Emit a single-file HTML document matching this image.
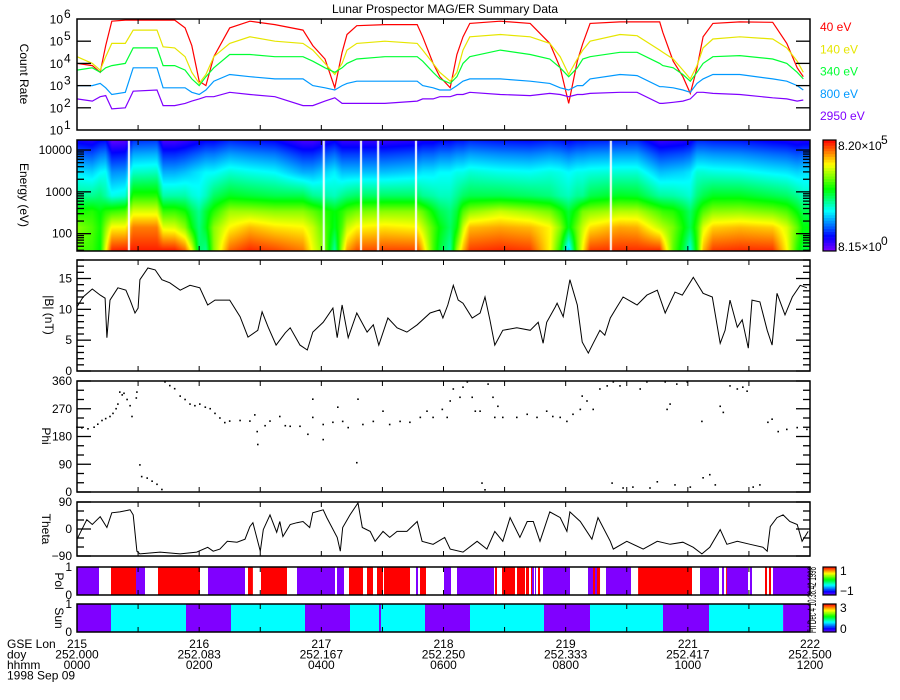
<!DOCTYPE html>
<html><head><meta charset="utf-8"><title>Lunar Prospector MAG/ER Summary Data</title>
<style>
html,body{margin:0;padding:0;background:#fff;}
#wrap{position:relative;width:900px;height:700px;overflow:hidden;font-family:"Liberation Sans",sans-serif;}
#spec{position:absolute;left:77px;top:140px;}
#chart{position:absolute;left:0;top:0;}
text{font-family:"Liberation Sans",sans-serif;font-size:12px;}
</style></head>
<body>
<div id="wrap">
<canvas id="spec" width="733" height="111"></canvas>
<svg id="chart" width="900" height="700" xmlns="http://www.w3.org/2000/svg">
<text x="445" y="13" text-anchor="middle" font-size="13">Lunar Prospector MAG/ER Summary Data</text>
</svg>
</div>
<script>
// ---- data ----
const cTimes = [0,0.25,0.38,0.47,0.57,0.79,0.92,1.31,1.41,1.60,1.77,1.88,2.00,2.11,2.24,2.50,2.83,3.24,3.70,3.86,4.06,4.22,4.34,4.42,4.58,5.04,5.57,5.66,5.83,5.94,6.11,6.22,6.32,6.43,6.93,7.42,7.74,7.91,8.05,8.19,8.28,8.40,8.89,9.17,9.54,9.59,9.76,9.92,10.04,10.15,10.25,10.41,10.85,11.39,11.62,11.79,11.89];
const rate40 = [4.0,3.9,3.6,4.8,5.9, 5.95,5.95,5.95,5.95,5.95, 5.6,4.8,3.2,3.0,4.3, 5.6,5.9,5.75,5.5,4.8, 4.2,2.9,4.5,5.3,5.7, 5.75,5.75,5.2,4.0,3.4, 2.9,4.4,5.2,5.8,5.9, 5.8,4.9,3.8,2.2,4.1, 4.9,5.8,5.87,5.87,5.87, 5.4,4.1,3.4,2.65,3.8, 5.2,5.8,5.87,5.85,4.9, 3.8,3.4];
const rate140 = [4.3,4.0,3.7,4.3,4.9, 4.9,5.5,5.5,4.75,4.7, 4.3,3.6,3.1,3.5,4.3, 4.9,5.2,5.0,4.9,4.6, 4.0,3.5,4.0,4.6,4.9, 5.0,4.9,4.6,4.0,3.6, 3.2,3.6,4.6,5.2,5.3, 5.2,4.9,4.3,3.5,4.2, 4.6,5.0,5.3,5.25,4.6, 4.5,4.2,3.7,3.3,3.9, 4.7,5.1,5.2,5.1,4.7, 4.1,3.6];
const rate340 = [3.7,3.8,3.6,3.8,3.9, 4.0,4.7,4.7,3.9,3.9, 3.7,3.3,3.0,3.4,3.8, 4.4,4.4,4.3,4.3,4.1, 3.8,3.6,3.8,4.0,4.2, 4.3,4.3,4.1,3.6,3.3, 3.1,3.4,4.0,4.3,4.6, 4.4,4.2,3.8,3.4,3.8, 4.2,4.3,4.5,4.5,4.0, 3.9,3.8,3.5,3.2,3.6, 4.0,4.3,4.35,4.2,4.0, 3.6,3.3];
const rate800 = [3.0,3.0,3.1,2.9,2.6, 2.7,3.8,3.8,2.9,2.9, 2.9,2.7,2.6,2.8,3.2, 3.5,3.4,3.3,3.3,3.0, 2.9,2.8,3.0,3.1,3.2, 3.2,3.2,3.0,2.9,2.8, 2.8,3.0,3.2,3.3,3.3, 3.2,3.1,2.9,2.8,3.0, 3.0,3.3,3.5,3.45,2.95, 2.95,2.9,2.8,2.7,3.1, 3.3,3.5,3.5,3.3,3.2, 3.0,2.8];
const rate2950 = [2.4,2.3,2.5,2.55,1.95, 2.0,2.75,2.8,2.1,2.1, 2.2,2.3,2.4,2.5,2.5, 2.7,2.6,2.5,2.1,2.1, 2.3,2.45,2.2,2.2,2.2, 2.2,2.3,2.4,2.4,2.5, 2.5,2.6,2.6,2.7,2.6, 2.55,2.65,2.6,2.5,2.6, 2.6,2.65,2.7,2.7,2.2, 2.2,2.25,2.3,2.4,2.7, 2.7,2.65,2.6,2.45,2.4, 2.3,2.35];
const channelEnergies = [40,140,340,800,2950];
const channelLabels = ["40 eV","140 eV","340 eV","800 eV","2950 eV"];
const specGapTimes = [0.85,4.04,4.65,4.93,5.55,8.74];

const bTimes = [0,0.10,0.25,0.38,0.46,0.49,0.54,0.67,0.80,0.87,0.95,1.00,1.03,1.16,1.28,1.39,1.52,1.69,1.85,2.01,2.14,2.26,2.50,2.67,2.80,2.96,3.03,3.13,3.26,3.41,3.49,3.65,3.77,3.86,4.03,4.19,4.26,4.34,4.44,4.58,4.75,4.85,4.94,5.09,5.24,5.40,5.57,5.78,5.94,5.99,6.07,6.16,6.24,6.32,6.47,6.60,6.68,6.76,6.84,6.97,7.20,7.42,7.55,7.63,7.69,7.83,7.86,7.96,8.07,8.19,8.27,8.37,8.45,8.56,8.64,8.73,8.84,8.94,9.17,9.33,9.50,9.63,9.79,9.91,10.09,10.25,10.40,10.53,10.61,10.69,10.81,10.89,10.99,11.05,11.18,11.30,11.38,11.46,11.59,11.71,11.84,11.95];
const bValues = [10.4,12,13.3,12.3,11.8,5.4,11.5,13.5,13.1,11.5,9.4,10.2,14.8,16.7,16.4,14.8,14.3,13.1,13.9,13.5,10.7,11.5,11.5,8.8,5.5,6.6,9.6,7.1,4.2,6.2,7.0,4.2,3.4,6.3,7.9,10.2,5.4,10.7,5.4,9.4,6.3,7.5,4.2,8.6,7.0,6.3,7.5,9.4,9.9,8.6,10.7,13.9,11.5,11.0,8.6,9.4,12.0,8.3,4.2,6.6,7.0,6.6,7.9,4.5,7.9,10.4,11.0,8.8,14.8,10.7,4.7,2.9,4.5,6.6,5.8,8.6,10.4,12.0,10.7,12.3,13.1,9.4,12.8,12.3,15.2,12.6,12.0,4.5,6.6,11.5,7.1,8.3,3.7,11.5,11.2,6.6,4.2,12.6,9.1,12.0,13.9,13.5];

const phiTimes = [0,0.08,0.18,0.28,0.34,0.41,0.47,0.54,0.59,0.64,0.67,0.70,0.74,0.77,0.82,0.87,0.90,0.97,0.98,1.03,1.06,1.15,1.23,1.31,1.39,1.44,1.52,1.60,1.69,1.77,1.85,1.93,2.01,2.10,2.18,2.26,2.34,2.42,2.50,2.67,2.83,2.91,2.95,2.96,3.08,3.16,3.32,3.41,3.49,3.65,3.78,3.86,3.86,4.03,4.03,4.19,4.27,4.35,4.44,4.58,4.60,4.68,4.85,5.01,5.12,5.29,5.45,5.62,5.73,5.83,5.98,6.06,6.11,6.16,6.27,6.32,6.39,6.47,6.52,6.60,6.63,6.68,6.73,6.81,6.84,6.89,6.97,7.20,7.37,7.53,7.69,7.79,7.91,8.02,8.12,8.24,8.27,8.35,8.45,8.56,8.68,8.76,8.78,8.89,8.94,9.10,9.22,9.33,9.38,9.50,9.63,9.66,9.71,9.79,9.82,9.99,10.04,10.23,10.25,10.36,10.45,10.53,10.58,10.69,10.81,10.90,10.97,11.07,11.18,11.31,11.38,11.48,11.62,11.79,11.95];
const phiValues = [210,208,205,210,220,232,238,245,255,270,285,324,315,320,300,280,245,305,324,88,50,45,35,25,8,357,345,335,311,300,285,280,285,275,270,255,240,225,230,232,230,250,196,154,215,230,245,215,213,213,187,242,301,170,219,226,275,229,209,95,301,219,229,262,219,229,226,242,262,242,268,242,295,334,307,340,357,307,262,262,29,7,350,307,242,278,242,242,252,242,262,245,242,229,252,268,311,295,268,334,344,29,357,344,13,16,334,357,13,33,357,268,285,23,350,357,16,229,46,56,23,278,258,344,334,340,327,16,23,226,236,196,203,209,203];

const thetaTimes = [0,0.16,0.25,0.38,0.49,0.57,0.70,0.87,0.92,0.98,1.03,1.36,1.69,1.96,2.14,2.23,2.34,2.46,2.62,2.75,2.83,2.88,3.00,3.05,3.16,3.27,3.32,3.37,3.49,3.60,3.70,3.81,3.86,4.03,4.09,4.26,4.31,4.35,4.47,4.60,4.67,4.80,4.88,5.01,5.12,5.24,5.40,5.57,5.65,5.83,6.02,6.11,6.32,6.55,6.71,6.84,6.97,7.09,7.25,7.37,7.47,7.58,7.74,7.91,8.02,8.07,8.24,8.43,8.53,8.73,8.78,9.00,9.27,9.50,9.71,9.92,10.09,10.23,10.36,10.53,10.64,10.81,11.02,11.23,11.30,11.35,11.46,11.56,11.67,11.79,11.87,11.97];
const thetaValues = [-34,31,15,41,5,54,57,64,47,-74,-83,-77,-83,-77,-61,-74,-67,-41,-44,-34,8,21,-74,-2,47,-11,25,-25,15,21,25,5,54,64,38,-28,-74,5,47,87,5,-8,-41,-8,-28,-8,-8,25,-41,-51,-28,-67,-77,-41,-67,-8,-41,38,-28,25,25,-41,57,38,-8,57,25,-34,38,-41,-67,-41,-67,-41,-51,-44,-61,-83,-61,-2,-51,-41,-51,-61,-74,8,38,47,25,15,-41,-8];

const polStarts = [0,0.36,0.557,0.966,1.113,1.326,2.014,2.145,2.75,2.8,2.881,3.012,3.438,3.602,4.224,4.257,4.371,4.453,4.683,4.748,4.846,4.912,5.01,5.026,5.452,5.55,5.583,5.616,5.714,6.009,6.123,6.221,6.827,6.843,6.876,6.958,7.171,7.204,7.335,7.351,7.4,7.433,7.449,7.482,7.498,7.515,7.547,7.58,7.629,8.071,8.366,8.448,8.481,8.513,8.563,8.661,9.07,9.185,10.069,10.2,10.511,10.56,10.593,10.626,10.642,10.986,11.018,11.051,11.264,11.297,11.329,11.362,11.395];
const polValues = [-1,0,1,-1,0,1,0,-1,0,1,0,1,0,-1,0,-1,0,1,0,1,0,1,0,1,0,-1,0,1,0,-1,0,-1,0,1,0,1,0,1,0,1,0,1,-1,0,-1,0,1,0,-1,0,-1,1,-1,1,0,-1,0,1,0,-1,0,-1,0,1,-1,0,-1,0,1,0,1,0,-1];
const sunStarts = [0,0.557,1.785,2.521,3.733,4.469,4.944,4.977,5.697,6.434,7.646,8.399,9.594,10.347,11.559];
const sunValues = [0,1,0,1,0,1,0,1,0,1,0,1,0,1,0];

const xTickHours = [0,1,2,3,4,5,6,7,8,9,10,11,12];
const lonLabels = ["215","216","217","218","219","221","222"];
const doyLabels = ["252.000","252.083","252.167","252.250","252.333","252.417","252.500"];
const hhmmLabels = ["0000","0200","0400","0600","0800","1000","1200"];

// ---- geometry ----
const X0 = 77, X1 = 810, T0 = 0, T1 = 12;
function xs(t){ return X0 + (t - T0) / (T1 - T0) * (X1 - X0); }
const P = {
  cr:{top:19,bot:130,lo:1,hi:6},
  sp:{top:140,bot:251,lo:1.585,hi:4.24},
  b:{top:260,bot:371,lo:0,hi:18},
  phi:{top:381,bot:492,lo:0,hi:360},
  th:{top:502,bot:556,lo:-90,hi:90},
  pol:{top:567,bot:595,lo:0,hi:1},
  sun:{top:604,bot:632,lo:0,hi:1}
};
function ys(p,v){ return p.bot - (v - p.lo) / (p.hi - p.lo) * (p.bot - p.top); }

const svg = document.getElementById('chart');
const NS = 'http://www.w3.org/2000/svg';
function mk(tag, attrs, parent){
  const el = document.createElementNS(NS, tag);
  for (const k in attrs) el.setAttribute(k, attrs[k]);
  (parent || svg).appendChild(el);
  return el;
}
function stops(){ return [[0,[128,0,255]],[0.13,[0,0,255]],[0.36,[0,255,255]],[0.56,[0,255,0]],[0.78,[255,255,0]],[1,[255,0,0]]]; }
function cmap(l){
  l = Math.max(0, Math.min(1, l));
  const s = stops();
  for (let i = 1; i < s.length; i++){
    if (l <= s[i][0]){
      const f = (l - s[i-1][0]) / (s[i][0] - s[i-1][0]);
      const a = s[i-1][1], b = s[i][1];
      return [0,1,2].map(k => Math.round(a[k] + (b[k] - a[k]) * f));
    }
  }
  return s[s.length-1][1];
}
function interp(ts, vs, t){
  if (t <= ts[0]) return vs[0];
  for (let i = 1; i < ts.length; i++) if (t <= ts[i]) { const f = (t - ts[i-1]) / (ts[i] - ts[i-1]); return vs[i-1] + (vs[i] - vs[i-1]) * f; }
  return vs[vs.length-1];
}

// ---- spectrogram (canvas) ----
(function(){
  const cv = document.getElementById('spec');
  const ctx = cv.getContext('2d');
  const img = ctx.createImageData(733, 111);
  const series = [rate40, rate140, rate340, rate800, rate2950];
  const logE = channelEnergies.map(e => Math.log10(e)).concat([Math.log10(8000), Math.log10(16000), Math.log10(20000)]);
  for (let px = 0; px < 733; px++){
    const t = T0 + (px + 0.5) / 733 * (T1 - T0);
    const lv = series.map(s => (interp(cTimes, s, t) - 0.5) / 5.6);
    lv.push(lv[4] - 0.12, lv[4] - 0.22, lv[4] - 0.26);
    for (let py = 0; py < 111; py++){
      const le = P.sp.hi - (py + 0.5) / 111 * (P.sp.hi - P.sp.lo);
      const l = interp(logE, lv, le);
      const c = cmap(l);
      const o = (py * 733 + px) * 4;
      img.data[o] = c[0]; img.data[o+1] = c[1]; img.data[o+2] = c[2]; img.data[o+3] = 255;
    }
  }
  ctx.putImageData(img, 0, 0);
  ctx.fillStyle = '#fff';
  specGapTimes.forEach(t => { ctx.fillRect(xs(t) - X0 - 1, 0, 2, 111); });
})();

// ---- count-rate lines ----
const lineColors = ['#ff0000','#e6e600','#00ff33','#0099ff','#8000ff'];
[rate40, rate140, rate340, rate800, rate2950].forEach((s, i) => {
  const pts = cTimes.map((t, j) => xs(t).toFixed(1) + ',' + ys(P.cr, s[j]).toFixed(1)).join(' ');
  const pl = mk('polyline', {points: pts, fill: 'none', stroke: lineColors[i], 'stroke-width': 1.2});
  
  
  const lg = mk('text', {x: 820, y: 31 + i * 22.3, fill: lineColors[i]});
  lg.textContent = channelLabels[i];
  
  
});

// ---- B line ----
{
  const pts = bTimes.map((t, j) => xs(t).toFixed(1) + ',' + ys(P.b, bValues[j]).toFixed(1)).join(' ');
  const pl = mk('polyline', {points: pts, fill: 'none', stroke: '#000', 'stroke-width': 1});
  
  
}
// ---- phi dots ----
phiTimes.forEach((t, j) => {
  const r = mk('rect', {x: (xs(t) - 0.8).toFixed(1), y: (ys(P.phi, phiValues[j]) - 0.8).toFixed(1), width: 1.6, height: 1.6, fill: '#000'});
  
  
});
// ---- theta line ----
{
  const pts = thetaTimes.map((t, j) => xs(t).toFixed(1) + ',' + ys(P.th, thetaValues[j]).toFixed(1)).join(' ');
  const pl = mk('polyline', {points: pts, fill: 'none', stroke: '#000', 'stroke-width': 1});
  
  
}
// ---- pol / sun bands ----
function polColor(v){ return v === 1 ? '#ff0000' : (v === -1 ? '#8000ff' : '#ffffff'); }
polStarts.forEach((t, j) => {
  const t2 = j + 1 < polStarts.length ? polStarts[j+1] : T1;
  const r = mk('rect', {x: xs(t).toFixed(1), y: P.pol.top, width: (xs(t2) - xs(t)).toFixed(1), height: P.pol.bot - P.pol.top, fill: polColor(polValues[j])});
  
  
});
sunStarts.forEach((t, j) => {
  const t2 = j + 1 < sunStarts.length ? sunStarts[j+1] : T1;
  const r = mk('rect', {x: xs(t).toFixed(1), y: P.sun.top, width: (xs(t2) - xs(t)).toFixed(1), height: P.sun.bot - P.sun.top, fill: sunValues[j] === 1 ? '#00ffff' : '#8000ff'});
  
  
});

// ---- frames, ticks ----
function frame(p, name){
  const r = mk('rect', {x: X0, y: p.top, width: X1 - X0, height: p.bot - p.top, fill: 'none', stroke: '#000', 'stroke-width': 1.5});
  
  
  xTickHours.forEach(h => {
    const x = xs(h);
    const a = mk('line', {x1: x, x2: x, y1: p.bot, y2: p.bot - 5, stroke: '#000'});
    
    
    const b = mk('line', {x1: x, x2: x, y1: p.top, y2: p.top + 5, stroke: '#000'});
    
    
  });
}
function yTick(p, v, len, name){
  const y = ys(p, v);
  const a = mk('line', {x1: X0, x2: X0 + len, y1: y, y2: y, stroke: '#000', 'stroke-width': 1.3});
  
  
  const b = mk('line', {x1: X1, x2: X1 - len, y1: y, y2: y, stroke: '#000', 'stroke-width': 1.3});
  
  
}
function yLabel(p, v, txt, name){
  const t = mk('text', {x: 72, y: ys(p, v) + 4, 'text-anchor': 'end', 'font-size': 11});
  t.textContent = txt;
  
  
}
function axisTitle(x, y, txt, name){
  const t = mk('text', {x: x, y: y, 'text-anchor': 'middle', transform: 'rotate(90 ' + x + ' ' + y + ')'});
  t.textContent = txt;
  
  
}

// count rate
frame(P.cr, 'count-rate');
const crDecades = [1,2,3,4,5,6];
crDecades.forEach(d => {
  if (d > 1 && d < 6) yTick(P.cr, d, 14, 'count-rate');
  const t = mk('text', {x: 63, y: ys(P.cr, d) + 4.5, 'text-anchor': 'end', 'font-size': 11});
  t.textContent = '10';
  
  
  const s = mk('text', {x: 64, y: ys(P.cr, d) - 1, 'font-size': 10});
  s.textContent = String(d);
  
  
});
axisTitle(20, 74, 'Count Rate', 'count-rate-axis-title');

// spectrogram axis
frame(P.sp, 'spectrogram');
const specMajor = [100,1000,10000];
const specMinor = [40,50,60,70,80,90,200,300,400,500,600,700,800,900,2000,3000,4000,5000,6000,7000,8000,9000];
specMajor.forEach(e => { yTick(P.sp, Math.log10(e), 14, 'spectrogram'); yLabel(P.sp, Math.log10(e), String(e), 'spectrogram'); });
specMinor.forEach(e => yTick(P.sp, Math.log10(e), 7, 'spectrogram'));
axisTitle(20, 195, 'Energy (eV)', 'energy-axis-title');

// B
frame(P.b, 'b-magnitude');
for (let v = 0; v <= 18; v++) yTick(P.b, v, v % 5 === 0 ? 14 : 7, 'b-magnitude');
[0,5,10,15].forEach(v => yLabel(P.b, v, String(v), 'b-magnitude'));
axisTitle(45, 315, '|B| (nT)', 'b-axis-title');

// phi
frame(P.phi, 'phi');
for (let v = 0; v <= 360; v += 30) yTick(P.phi, v, v % 90 === 0 ? 14 : 7, 'phi');
[0,90,180,270,360].forEach(v => yLabel(P.phi, v, String(v), 'phi'));
axisTitle(42, 436, 'Phi', 'phi-axis-title');

// theta
frame(P.th, 'theta');
for (let v = -90; v <= 90; v += 30) yTick(P.th, v, v % 90 === 0 ? 14 : 7, 'theta');
[-90,0,90].forEach(v => yLabel(P.th, v, v < 0 ? '\u221290' : String(v), 'theta'));
axisTitle(42, 529, 'Theta', 'theta-axis-title');

// pol & sun
frame(P.pol, 'pol');
[0,1].forEach(v => yLabel(P.pol, v, String(v), 'pol'));
axisTitle(55, 581, 'Pol', 'pol-axis-title');
frame(P.sun, 'sun');
[0,1].forEach(v => yLabel(P.sun, v, String(v), 'sun'));
axisTitle(55, 618, 'Sun', 'sun-axis-title');

// ---- colorbars ----
function colorbar(top, bot, name){
  const n = 40, h = (bot - top) / n;
  for (let i = 0; i < n; i++){
    const c = cmap((i + 0.5) / n);
    const r = mk('rect', {x: 823, y: (bot - (i + 1) * h).toFixed(2), width: 13, height: (h + 0.3).toFixed(2), fill: 'rgb(' + c.join(',') + ')'});
    
    
  }
  const f = mk('rect', {x: 823, y: top, width: 13, height: bot - top, fill: 'none', stroke: '#000', 'stroke-width': 1.2});
  
  
}
colorbar(140, 251, 'spectrogram-colorbar');
colorbar(567, 595, 'pol-colorbar');
colorbar(604, 632, 'sun-colorbar');
const cbLabels = [
  [838, 150, '8.20\u00d710', '5', 'spectrogram-colorbar-max'],
  [838, 251, '8.15\u00d710', '0', 'spectrogram-colorbar-min']
];
cbLabels.forEach(l => {
  const t = mk('text', {x: l[0], y: l[1], 'font-size': 11});
  t.textContent = l[2];
  
  
  const s = mk('text', {x: l[0] + 43, y: l[1] - 6, 'font-size': 10});
  s.textContent = l[3];
  
  
});
[[840, 575, '1', 'pol-colorbar-max'], [840, 595, '\u22121', 'pol-colorbar-min'], [840, 612, '3', 'sun-colorbar-max'], [840, 633, '0', 'sun-colorbar-min']].forEach(l => {
  const t = mk('text', {x: l[0], y: l[1]});
  t.textContent = l[2];
  
  
});
{
  const t = mk('text', {x: 816, y: 600, 'font-size': 7, 'text-anchor': 'middle', textLength: 66, lengthAdjust: 'spacingAndGlyphs', transform: 'rotate(-90 816 600)'});
  t.textContent = 'Fri Dec  4 10:38:42 1998';
  
  
}

// ---- x labels ----
const rowNames = ['GSE Lon','doy','hhmm','1998 Sep 09'];
rowNames.forEach((n, i) => {
  const t = mk('text', {x: 7, y: 648 + i * 10.5});
  t.textContent = n;
  
  
});
[lonLabels, doyLabels, hhmmLabels].forEach((arr, r) => {
  arr.forEach((lab, i) => {
    const t = mk('text', {x: xs(i * 2), y: 648 + r * 10.5, 'text-anchor': 'middle'});
    t.textContent = lab;
    
    
  });
});
</script>
</body></html>
